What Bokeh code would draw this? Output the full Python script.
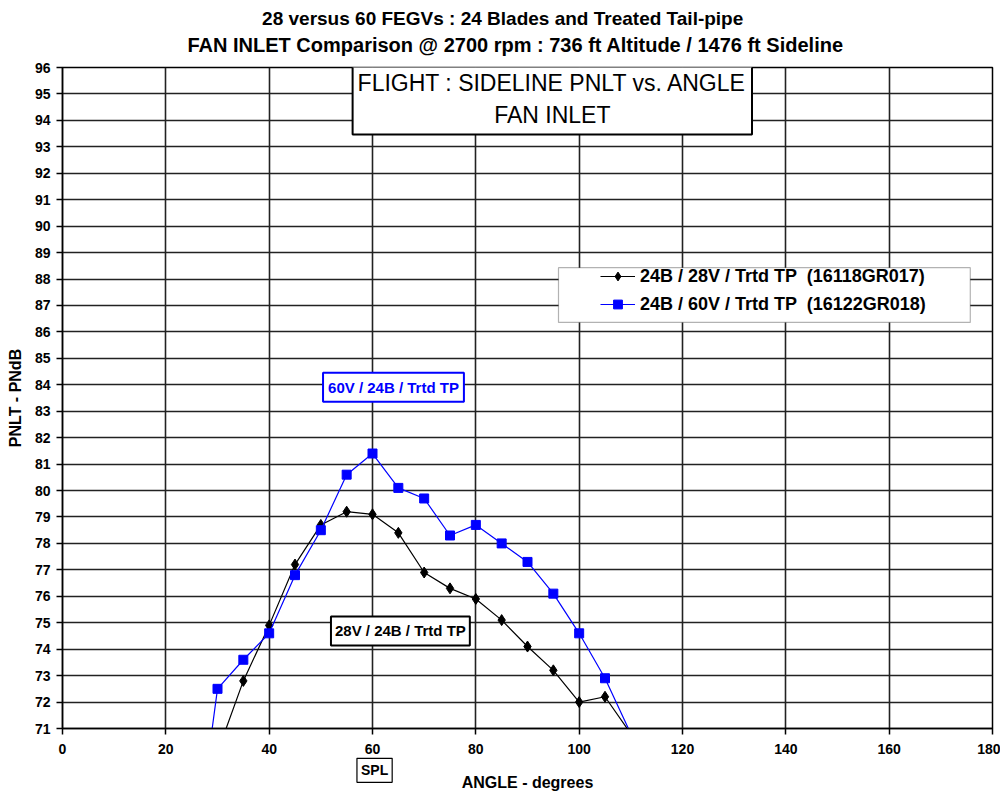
from bokeh.plotting import figure
from bokeh.models import (Range1d, Label, Legend, LegendItem, FixedTicker, BoxAnnotation,
                          ColumnDataSource, CDSView, BooleanFilter)
from bokeh.embed import file_html
from bokeh.resources import INLINE

# ---- data ----
angles_28v = [30, 35, 40, 45, 50, 55, 60, 65, 70, 75, 80, 85, 90, 95, 100, 105, 110]
pnlt_28v = [70.1, 72.8, 74.9, 77.2, 78.7, 79.2, 79.1, 78.4, 76.9, 76.3, 75.9, 75.1, 74.1, 73.2, 72.0, 72.2, 70.8]

angles_60v = [25, 30, 35, 40, 45, 50, 55, 60, 65, 70, 75, 80, 85, 90, 95, 100, 105, 110]
pnlt_60v = [65.2, 72.5, 73.6, 74.6, 76.8, 78.5, 80.6, 81.4, 80.1, 79.7, 78.3, 78.7, 78.0, 77.3, 76.1, 74.6, 72.9, 70.8]

x_ticks = [0, 20, 40, 60, 80, 100, 120, 140, 160, 180]
y_ticks = list(range(71, 97))

label_28v = "24B / 28V / Trtd TP  (16118GR017)"
label_60v = "24B / 60V / Trtd TP  (16122GR018)"
title_1 = "28 versus 60 FEGVs : 24 Blades and Treated Tail-pipe"
title_2 = "FAN INLET Comparison @ 2700 rpm : 736 ft Altitude / 1476 ft Sideline"

FONT = "Liberation Sans"
BLUE = "#0000FF"
Y_MIN, Y_MAX = 71, 96

p = figure(width=1000, height=793, x_range=Range1d(0, 180), y_range=Range1d(Y_MIN, Y_MAX),
           output_backend="svg", toolbar_location=None,
           min_border_left=62, min_border_right=8, min_border_top=66, min_border_bottom=63)

p.background_fill_color = "white"
p.border_fill_color = "white"
p.outline_line_color = "black"
p.outline_line_width = 1.5

# axes
p.xaxis.ticker = FixedTicker(ticks=x_ticks)
p.yaxis.ticker = FixedTicker(ticks=y_ticks)
for ax in (p.xaxis[0], p.yaxis[0]):
    ax.major_label_text_font = FONT
    ax.major_label_text_font_style = "bold"
    ax.major_label_text_font_size = "14px"
    ax.major_label_text_color = "black"
    ax.axis_label_text_font = FONT
    ax.axis_label_text_font_style = "bold"
    ax.axis_label_text_font_size = "16px"
    ax.axis_label_text_color = "black"
    ax.axis_line_color = "black"
    ax.axis_line_width = 1.5
    ax.major_tick_line_color = "black"
    ax.major_tick_line_width = 1.5
    ax.major_tick_out = 6
    ax.major_tick_in = 0
    ax.minor_tick_line_color = None
p.xaxis.axis_label = "ANGLE - degrees"
p.yaxis.axis_label = "PNLT - PNdB"
p.xaxis.major_label_standoff = 9
p.xaxis.axis_label_standoff = 17
p.yaxis.major_label_standoff = 6
p.yaxis.axis_label_standoff = 8

p.xgrid.ticker = FixedTicker(ticks=x_ticks)
p.ygrid.ticker = FixedTicker(ticks=y_ticks)
p.grid.grid_line_color = "#222222"
p.grid.grid_line_width = 1.6
p.grid.grid_line_alpha = 1.0

# series (markers whose centre lies outside the value axis are not drawn)
src1 = ColumnDataSource(dict(x=angles_28v, y=pnlt_28v))
src2 = ColumnDataSource(dict(x=angles_60v, y=pnlt_60v))
view1 = CDSView(filter=BooleanFilter([Y_MIN <= v <= Y_MAX for v in pnlt_28v]))
view2 = CDSView(filter=BooleanFilter([Y_MIN <= v <= Y_MAX for v in pnlt_60v]))

l1 = p.line("x", "y", source=src1, line_color="black", line_width=1.2)
s1 = p.scatter("x", "y", source=src1, view=view1, marker="diamond", size=11,
               fill_color="black", line_color="black")
l2 = p.line("x", "y", source=src2, line_color=BLUE, line_width=1.2)
s2 = p.scatter("x", "y", source=src2, view=view2, marker="square", size=9,
               fill_color=BLUE, line_color=BLUE)

# legend box + legend
p.add_layout(BoxAnnotation(left=96.0, right=175.7, top=88.43, bottom=86.36,
                           fill_color="white", fill_alpha=1.0,
                           line_color="black", line_width=1.2))
legend = Legend(items=[LegendItem(label=label_28v, renderers=[l1, s1]),
                       LegendItem(label=label_60v, renderers=[l2, s2])],
                location=(538, 413), padding=0, spacing=6,
                glyph_width=35, glyph_height=22, label_height=22, label_standoff=5,
                border_line_color=None, background_fill_alpha=0.0,
                label_text_font=FONT, label_text_font_style="bold",
                label_text_font_size="18px", label_text_color="black")
p.add_layout(legend)

# texts outside the frame: placed in the top side panel (not clipped)
p.add_layout(Label(x=85.2, y=97.845, text=title_1, text_align="center", text_baseline="middle",
                   text_font=FONT, text_font_style="bold", text_font_size="19px", text_color="black"),
             "above")
p.add_layout(Label(x=87.7, y=96.866, text=title_2, text_align="center", text_baseline="middle",
                   text_font=FONT, text_font_style="bold", text_font_size="20px", text_color="black"),
             "above")
p.add_layout(Label(x=60.4, y=69.42, text="SPL", text_align="center", text_baseline="middle",
                   text_font=FONT, text_font_style="bold", text_font_size="14px", text_color="black",
                   background_fill_color="white", border_line_color="black", border_line_width=1.2,
                   padding=4),
             "above")

# boxed annotations inside the frame
p.add_layout(Label(x=94.8, y=94.81, text="FLIGHT : SIDELINE PNLT vs. ANGLE\nFAN INLET",
                   text_align="center", text_baseline="middle", text_line_height=1.2,
                   text_font=FONT, text_font_size="23px", text_color="black",
                   background_fill_color="white", border_line_color="black", border_line_width=2,
                   padding=(5, 7)))
p.add_layout(Label(x=64.06, y=83.91, text="60V / 24B / Trtd TP", text_align="center", text_baseline="middle",
                   text_font=FONT, text_font_style="bold", text_font_size="15px", text_color=BLUE,
                   background_fill_color="white", border_line_color=BLUE, border_line_width=2,
                   padding=(5, 6)))
p.add_layout(Label(x=65.4, y=74.69, text="28V / 24B / Trtd TP", text_align="center", text_baseline="middle",
                   text_font=FONT, text_font_style="bold", text_font_size="15px", text_color="black",
                   background_fill_color="white", border_line_color="black", border_line_width=2,
                   padding=(4, 6)))

open("out.html", "w").write(file_html(p, INLINE))
